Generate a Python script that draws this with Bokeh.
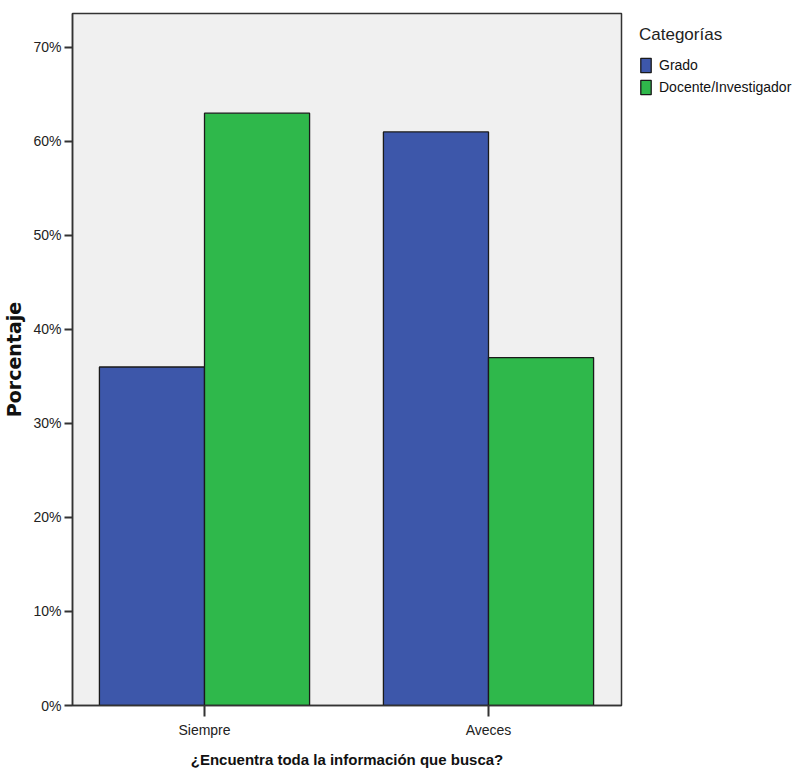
import numpy as np
from bokeh.plotting import figure
from bokeh.models import (Range1d, FixedTicker, PrintfTickFormatter, Legend, LegendItem,
                          ColumnDataSource)
from bokeh.embed import file_html
from bokeh.resources import INLINE

categories = ["Siempre", "Aveces"]
series = ["Grado", "Docente/Investigador"]
grado = [36, 61]
docente = [63, 37]
y_ticks = [0, 10, 20, 30, 40, 50, 60, 70]
colors = ["#3d57aa", "#2fb84b"]

FONT = "Liberation Sans"
idx = np.arange(len(categories))
bw = 0.37

p = figure(frame_width=549, frame_height=692, output_backend="svg", toolbar_location=None,
           x_range=Range1d(-0.4648, 1.4683), y_range=Range1d(0, 73.6),
           min_border_left=65, min_border_right=169, min_border_top=13, min_border_bottom=62)
p.background_fill_color = "#f0f0f0"
p.border_fill_color = "white"
p.outline_line_color = "#333333"
p.outline_line_width = 1.5
p.xgrid.visible = False
p.ygrid.visible = False

src_g = ColumnDataSource(dict(x=idx - bw / 2, top=grado))
src_d = ColumnDataSource(dict(x=idx + bw / 2, top=docente))
r1 = p.vbar(x="x", top="top", width=bw, source=src_g, fill_color=colors[0],
            line_color="#1a1a1a", line_width=1.3)
r2 = p.vbar(x="x", top="top", width=bw, source=src_d, fill_color=colors[1],
            line_color="#1a1a1a", line_width=1.3)

# axes
p.xaxis.ticker = FixedTicker(ticks=list(idx))
p.xaxis.major_label_overrides = {int(i): c for i, c in zip(idx, categories)}
p.yaxis.ticker = FixedTicker(ticks=y_ticks)
p.yaxis.formatter = PrintfTickFormatter(format="%d%%")
for ax in (p.xaxis, p.yaxis):
    ax.axis_line_color = "#333333"
    ax.axis_line_width = 1.5
    ax.major_tick_line_color = "#333333"
    ax.major_tick_line_width = 2
    ax.major_tick_in = 0
    ax.minor_tick_line_color = None
    ax.major_label_text_font = FONT
    ax.major_label_text_font_size = "14px"
    ax.major_label_text_color = "#222222"
    ax.axis_label_text_font_style = "bold"
    ax.axis_label_text_color = "#111111"
p.xaxis.major_tick_out = 11
p.yaxis.major_tick_out = 8
p.xaxis.major_label_standoff = 5
p.yaxis.major_label_standoff = 3
p.xaxis.axis_label = "¿Encuentra toda la información que busca?"
p.xaxis.axis_label_text_font = FONT
p.xaxis.axis_label_text_font_size = "15px"
p.xaxis.axis_label_standoff = 10
p.yaxis.axis_label = "Porcentaje"
p.yaxis.axis_label_text_font = "DejaVu Sans"
p.yaxis.axis_label_text_font_size = "19px"
p.yaxis.axis_label_standoff = 5

legend = Legend(items=[LegendItem(label=series[0], renderers=[r1]),
                       LegendItem(label=series[1], renderers=[r2])],
                location=(18, 608), orientation="vertical")
legend.title = "Categorías"
legend.title_text_font = FONT
legend.title_text_font_size = "17px"
legend.title_text_font_style = "normal"
legend.title_text_color = "#222222"
legend.title_standoff = 10
legend.glyph_width = 13
legend.glyph_height = 18
legend.label_height = 20
legend.spacing = 2
legend.label_standoff = 7
legend.padding = 0
legend.margin = 0
legend.label_text_font = FONT
legend.label_text_font_size = "14px"
legend.label_text_color = "#111111"
legend.background_fill_alpha = 0
legend.border_line_color = None
p.add_layout(legend, "right")

open("out.html", "w").write(file_html(p, INLINE))
